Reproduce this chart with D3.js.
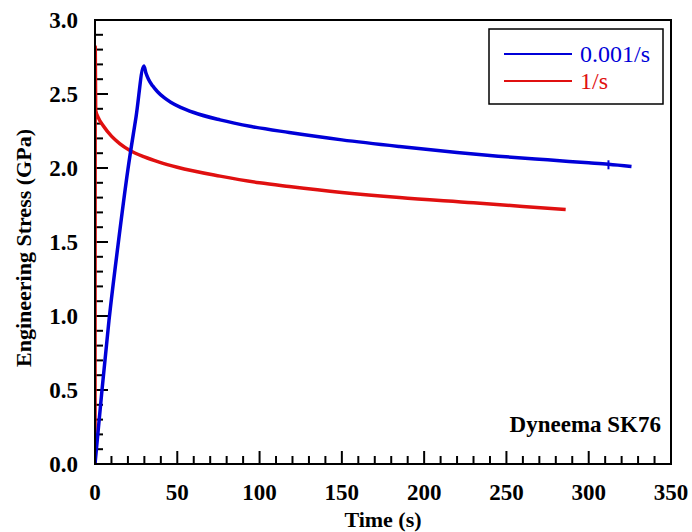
<!DOCTYPE html>
<html><head><meta charset="utf-8">
<script src="https://cdn.jsdelivr.net/npm/d3@7"></script>
<style>body{margin:0;background:#fff} text{font-family:"Liberation Serif","Times New Roman",Times,"DejaVu Serif",serif}</style>
</head><body>
<svg id="c" width="692" height="532"></svg>
<script>
const xTicks = [0, 50, 100, 150, 200, 250, 300, 350];
const yTicks = [0, 0.5, 1.0, 1.5, 2.0, 2.5, 3.0];
const seriesNames = ["0.001/s", "1/s"];
const seriesColors = ["#0000d8", "#e01010"];
const blueTime =   [0, 4, 8.5, 14, 20, 25, 29.7, 31, 32.5, 35, 38, 42, 46, 52, 60, 76, 95, 118, 150, 185, 220, 245, 275, 300, 312, 326];
const blueStress = [0, 0.47, 0.97, 1.48, 1.99, 2.35, 2.69, 2.64, 2.60, 2.555, 2.515, 2.475, 2.445, 2.41, 2.375, 2.325, 2.28, 2.24, 2.19, 2.145, 2.105, 2.08, 2.055, 2.035, 2.025, 2.01];
const redTime =    [0, 0.15, 0.4, 2, 5, 10, 15, 21, 30, 39, 50, 76, 100, 118, 150, 185, 230, 260, 286];
const redStress =  [0, 2.82, 2.39, 2.34, 2.285, 2.215, 2.165, 2.12, 2.075, 2.04, 2.005, 1.945, 1.9, 1.875, 1.835, 1.8, 1.765, 1.74, 1.72];
const markerTime = [312];
const markerStress = [2.025];

const svg = d3.select("#c");
const L = 95, R = 671, T = 20, B = 464;
const x = d3.scaleLinear().domain([0, 350]).range([L, R]);
const y = d3.scaleLinear().domain([0, 3]).range([B, T]);

svg.append("defs").append("clipPath").attr("id", "clip")
  .append("rect").attr("x", L).attr("y", T).attr("width", R - L).attr("height", B - T);

// ticks
const g = svg.append("g");
const xMinor = d3.range(0, 351, 10);
const yMinor = d3.range(0, 30.5, 1).map(d => d / 10);
g.selectAll(".xm").data(xMinor).enter().append("line")
  .attr("x1", d => x(d)).attr("x2", d => x(d))
  .attr("y1", B).attr("y2", d => xTicks.includes(d) ? B - 13 : B - 8)
  .attr("stroke", "#000").attr("stroke-width", 2);
g.selectAll(".ym").data(yMinor).enter().append("line")
  .attr("y1", d => y(d)).attr("y2", d => y(d))
  .attr("x1", L).attr("x2", d => (Math.round(d * 10) % 5 === 0) ? L + 13 : L + 8)
  .attr("stroke", "#000").attr("stroke-width", 2);

// tick labels
svg.append("g").selectAll("text").data(xTicks).enter().append("text")
  .attr("x", d => x(d)).attr("y", 500).attr("text-anchor", "middle")
  .attr("font-weight", "bold").attr("font-size", 23)
  .text(d => d);
svg.append("g").selectAll("text").data(yTicks).enter().append("text")
  .attr("x", 78).attr("y", d => y(d) + 8).attr("text-anchor", "end")
  .attr("font-weight", "bold").attr("font-size", 23)
  .text(d => d3.format(".1f")(d));

// lines
const line = d3.line().x(d => x(d[0])).y(d => y(d[1])).curve(d3.curveMonotoneX);
const plot = svg.append("g").attr("clip-path", "url(#clip)");
plot.append("path").datum(redTime.map((t, i) => [t, redStress[i]]))
  .attr("d", line).attr("fill", "none").attr("stroke", seriesColors[1]).attr("stroke-width", 3.5).attr("stroke-linejoin", "round");
plot.append("path").datum(blueTime.map((t, i) => [t, blueStress[i]]))
  .attr("d", line).attr("fill", "none").attr("stroke", seriesColors[0]).attr("stroke-width", 3.5).attr("stroke-linejoin", "round");
plot.selectAll(".mk").data(markerTime).enter().append("line")
  .attr("x1", d => x(d)).attr("x2", d => x(d))
  .attr("y1", (d, i) => y(markerStress[i]) - 4).attr("y2", (d, i) => y(markerStress[i]) + 5)
  .attr("stroke", seriesColors[0]).attr("stroke-width", 2);

// frame
svg.append("rect").attr("x", L).attr("y", T).attr("width", R - L).attr("height", B - T)
  .attr("fill", "none").attr("stroke", "#000").attr("stroke-width", 2);

// axis titles
svg.append("text").attr("x", 383).attr("y", 527).attr("text-anchor", "middle")
  .attr("font-weight", "bold").attr("font-size", 22).text("Time (s)");
svg.append("text").attr("transform", "translate(31,248) rotate(-90)").attr("text-anchor", "middle")
  .attr("font-weight", "bold").attr("font-size", 22).text("Engineering Stress (GPa)");

// annotation
svg.append("text").attr("x", 661).attr("y", 432).attr("text-anchor", "end")
  .attr("font-weight", "bold").attr("font-size", 23).text("Dyneema SK76");

// legend
const lg = svg.append("g");
lg.append("rect").attr("x", 489).attr("y", 29).attr("width", 174).attr("height", 75)
  .attr("fill", "#fff").attr("stroke", "#000").attr("stroke-width", 1.5);
seriesNames.forEach((n, i) => {
  const yy = 54 + i * 27;
  lg.append("line").attr("x1", 504).attr("x2", 572).attr("y1", yy).attr("y2", yy)
    .attr("stroke", seriesColors[i]).attr("stroke-width", 2);
  lg.append("text").attr("x", 580).attr("y", yy + 8)
    .attr("font-size", 24).attr("fill", seriesColors[i]).text(n);
});
</script>
</body></html>
